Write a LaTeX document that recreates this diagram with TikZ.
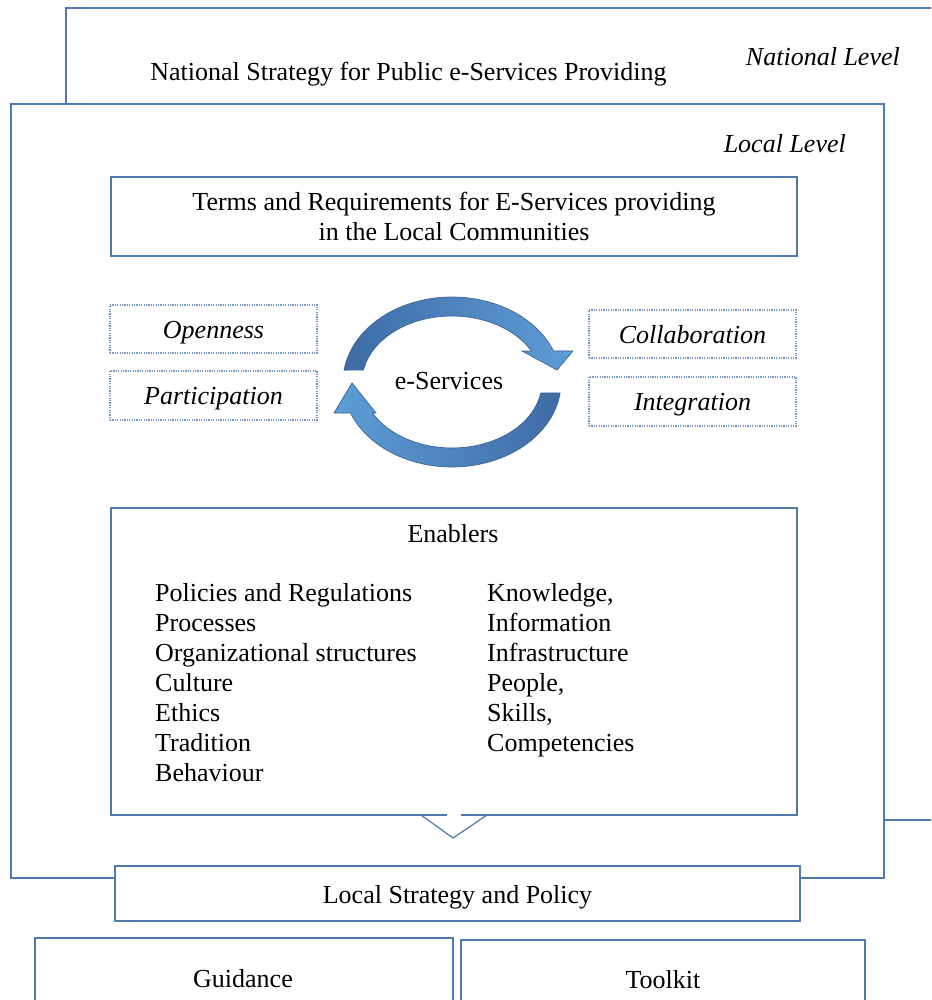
\documentclass[tikz,border=0pt]{standalone}
\usepackage{fontspec}
\setmainfont{Liberation Serif}
\definecolor{boxblue}{RGB}{79,122,172}
\definecolor{dotblue}{RGB}{115,150,195}
\definecolor{arrowdark}{RGB}{62,108,165}
\definecolor{arrowlight}{RGB}{94,157,215}
\definecolor{arrowedge}{RGB}{60,100,150}
\begin{document}
\begin{tikzpicture}[x=1pt,y=-1pt,
  frame/.style={draw=boxblue,line width=1.2pt,fill=white,rectangle,inner sep=0pt},
  valuebox/.style={draw=dotblue,dash pattern=on 1.2pt off 1.2pt,line width=1.1pt,fill=white,rectangle,inner sep=0pt},
  txt/.style={anchor=base,inner sep=0pt,font=\fontsize{26}{30}\selectfont},
  ital/.style={txt,font=\fontsize{26}{30}\selectfont\itshape},
  listitem/.style={txt,anchor=base west},
  cyclearrow/.style={draw=arrowedge,line width=0.7pt}]
\useasboundingbox (0,0) rectangle (931,1000);
\clip (0,0) rectangle (931,1000);

% national level frame
\node[frame,minimum width=894pt,minimum height=812pt] (national) at (513,414) {};
\node[txt] (natstrat) at (408.5,80.5) {National Strategy for Public e-Services Providing};
\node[ital,anchor=base east] (natlevel) at (900,66) {National Level};

% local level frame
\node[frame,minimum width=873pt,minimum height=774pt] (local) at (447.5,491) {};
\node[ital,anchor=base east] (loclevel) at (846,153) {Local Level};

% terms and requirements
\node[frame,minimum width=686pt,minimum height=79pt] (terms) at (454,216.5) {};
\node[txt] (terms1) at (454,210.5) {Terms and Requirements for E-Services providing};
\node[txt] (terms2) at (454,240.5) {in the Local Communities};

% principles
\node[valuebox,minimum width=207pt,minimum height=48pt] (open) at (213.5,329) {};
\node[ital] (opent) at (213.5,338) {Openness};
\node[valuebox,minimum width=207pt,minimum height=49pt] (part) at (213.5,395.5) {};
\node[ital] (partt) at (213.5,404) {Participation};
\node[valuebox,minimum width=207pt,minimum height=48pt] (coll) at (692.5,334) {};
\node[ital] (collt) at (692.5,343) {Collaboration};
\node[valuebox,minimum width=207pt,minimum height=49pt] (integ) at (692.5,401.5) {};
\node[ital] (integt) at (692.5,410) {Integration};

% circular arrows around e-Services
\shadedraw[cyclearrow,left color=arrowdark,right color=arrowlight]
  plot[domain=172:21.4,samples=60] ({452+109*cos(\x)},{382-85*sin(\x)})
  -- (573,351) -- (557,370) -- (522,351)
  -- plot[domain=28:169.5,samples=60] ({452+90*cos(\x)},{382-66*sin(\x)}) -- cycle;
\shadedraw[cyclearrow,left color=arrowlight,right color=arrowdark]
  plot[domain=-7.4:-158.6,samples=60] ({452+109*cos(\x)},{382-85*sin(\x)})
  -- (334,413) -- (352,383) -- (376,413)
  -- plot[domain=-152:-9.6,samples=60] ({452+90*cos(\x)},{382-66*sin(\x)}) -- cycle;
\node[txt] (eserv) at (449,389) {e-Services};

% enablers box with its downward pointer
\node[frame,minimum width=686pt,minimum height=307pt] (enablers) at (454,661.5) {};
\coordinate (gapl) at (447,815);
\coordinate (gapr) at (461,815);
\coordinate (vleft) at (421,815);
\coordinate (vtip) at (453,838);
\coordinate (vright) at (487,815);
\draw[white,line width=2pt] (gapl) -- (gapr);
\draw[boxblue,line width=1.2pt] (vleft) -- (vtip) -- (vright);
\node[txt] (enabt) at (453,542) {Enablers};
\foreach \t [count=\i] in {Policies and Regulations,Processes,Organizational structures,Culture,Ethics,Tradition,Behaviour}
  \node[listitem] (left\i) at (155,{601+30*(\i-1)}) {\t};
\foreach \t [count=\i] in {{Knowledge,},Information,Infrastructure,{People,},{Skills,},Competencies}
  \node[listitem] (right\i) at (487,{601+30*(\i-1)}) {\t};

% local strategy and outputs
\node[frame,minimum width=685pt,minimum height=55pt] (locstrat) at (457.5,893.5) {};
\node[txt] (locstratt) at (457.5,903) {Local Strategy and Policy};
\node[frame,minimum width=418pt,minimum height=90pt] (guid) at (244,983) {};
\node[txt] (guidt) at (243,987) {Guidance};
\node[frame,minimum width=404pt,minimum height=90pt] (tool) at (663,985) {};
\node[txt] (toolt) at (663,988) {Toolkit};
\end{tikzpicture}
\end{document}
